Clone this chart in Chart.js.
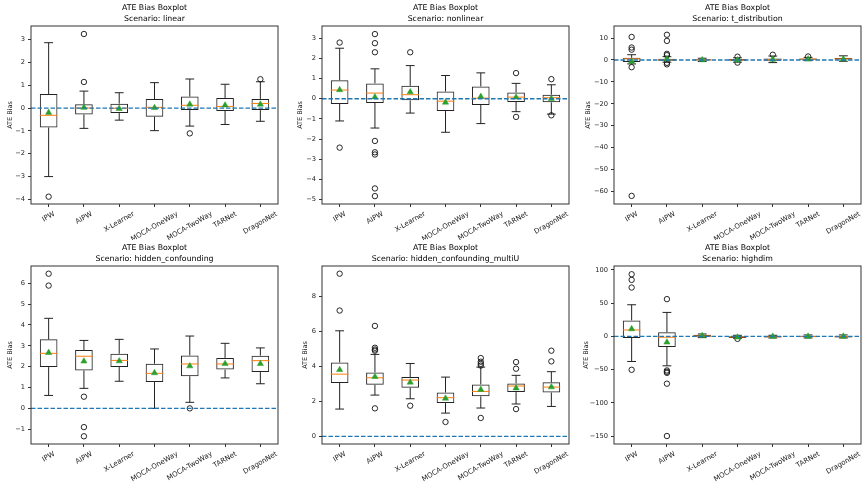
<!DOCTYPE html>
<html>
<head>
<meta charset="utf-8">
<title>ATE Bias Boxplots</title>
<script src="https://cdn.jsdelivr.net/npm/chart.js@4.4.1/dist/chart.umd.min.js"></script>
<style>
    body { margin: 0; background: #fff; }
    canvas { position: absolute; }
</style>
</head>
<body>
<canvas id="c0" width="289" height="240" style="left:0;top:0"></canvas>
<canvas id="c1" width="289" height="240" style="left:289px;top:0"></canvas>
<canvas id="c2" width="290" height="240" style="left:578px;top:0"></canvas>
<canvas id="c3" width="289" height="242" style="left:0;top:240px"></canvas>
<canvas id="c4" width="289" height="242" style="left:289px;top:240px"></canvas>
<canvas id="c5" width="290" height="242" style="left:578px;top:240px"></canvas>
<script>
var methods = ['IPW', 'AIPW', 'X-Learner', 'MOCA-OneWay', 'MOCA-TwoWay', 'TARNet', 'DragonNet'];

// each row: [lower whisker, Q1, median, Q3, upper whisker]
var linearStats = [[-3.0, -0.85, -0.32, 0.61, 2.86], [-0.89, -0.28, 0.0, 0.16, 0.74], [-0.53, -0.22, -0.01, 0.19, 0.67],
    [-0.99, -0.38, 0.03, 0.39, 1.11], [-0.79, -0.09, 0.12, 0.5, 1.27], [-0.72, -0.13, 0.07, 0.44, 1.04], [-0.58, -0.09, 0.2, 0.4, 1.15]];
var linearMeans = [-0.2, 0.02, -0.03, 0.01, 0.16, 0.12, 0.16];
var linearFliers = [[-3.88], [3.24, 1.14], [], [], [-1.11], [], [1.26]];
var linearTicks = [-4, -3, -2, -1, 0, 1, 2, 3];
var linearRange = [-4.2, 3.59];

var nonlinearStats = [[-1.1, -0.26, 0.43, 0.92, 2.5], [-1.45, -0.21, 0.28, 0.76, 1.48], [-0.71, -0.08, 0.2, 0.64, 1.64],
    [-1.66, -0.61, -0.12, 0.36, 1.15], [-1.23, -0.31, 0.03, 0.61, 1.28], [-0.64, -0.16, 0.08, 0.31, 0.76], [-0.76, -0.18, 0.05, 0.2, 0.69]];
var nonlinearMeans = [0.44, 0.08, 0.33, -0.18, 0.1, 0.07, 0.0];
var nonlinearFliers = [[2.78, -2.42], [3.2, 2.75, 2.3, -2.09, -2.65, -2.76, -4.44, -4.82], [2.3], [], [], [1.27, -0.9], [0.97, -0.82]];
var nonlinearTicks = [-5, -4, -3, -2, -1, 0, 1, 2, 3];
var nonlinearRange = [-5.21, 3.6];

var tdistStats = [[-1.8, -0.9, 0.5, 1.0, 2.4], [-1.0, -0.4, 0.1, 0.6, 1.5], [-0.7, -0.2, 0.05, 0.3, 0.8],
    [-1.0, -0.3, 0.05, 0.4, 1.0], [-1.2, -0.4, 0.2, 0.7, 1.8], [-0.3, 0.1, 0.4, 0.7, 1.2], [-0.6, 0.0, 0.5, 0.9, 1.9]];
var tdistMeans = [-0.7, 0.5, 0.0, 0.0, 0.2, 0.4, 0.4];
var tdistFliers = [[10.5, 5.7, 4.7, -3.3, -62], [11.5, 8.7, 2.8, 2.2, -1.3, -2.0], [], [1.5, -1.2], [2.4], [1.6], []];
var tdistTicks = [-60, -50, -40, -30, -20, -10, 0, 10];
var tdistRange = [-65.7, 15.5];

var hiddenStats = [[0.62, 1.98, 2.64, 3.31, 4.32], [0.96, 1.82, 2.5, 2.8, 3.26], [1.3, 1.98, 2.3, 2.62, 3.31],
    [0.0, 1.26, 1.68, 2.14, 2.85], [0.29, 1.54, 2.13, 2.54, 3.47], [1.46, 1.86, 2.13, 2.42, 3.12], [1.18, 1.74, 2.29, 2.53, 2.9]];
var hiddenMeans = [2.67, 2.26, 2.27, 1.7, 2.03, 2.14, 2.14];
var hiddenFliers = [[6.46, 5.89], [0.56, -0.9, -1.34], [], [], [0.0], [], []];
var hiddenTicks = [-1, 0, 1, 2, 3, 4, 5, 6];
var hiddenRange = [-1.71, 6.83];

var multiUStats = [[1.56, 3.05, 3.56, 4.23, 6.04], [2.36, 2.95, 3.35, 3.66, 4.69], [2.15, 2.78, 3.22, 3.39, 4.17],
    [1.33, 1.9, 2.21, 2.51, 3.39], [1.62, 2.29, 2.57, 2.97, 3.96], [1.85, 2.53, 2.88, 3.03, 3.49], [1.71, 2.51, 2.82, 3.09, 3.7]];
var multiUMeans = [3.81, 3.41, 3.09, 2.17, 2.67, 2.76, 2.82];
var multiUFliers = [[9.31, 7.2], [6.32, 5.07, 4.97, 4.9, 1.6], [1.75], [0.82], [4.48, 4.27, 4.15, 4.05, 1.05], [4.25, 3.87, 1.56], [4.9, 4.29]];
var multiUTicks = [0, 2, 4, 6, 8];
var multiURange = [-0.44, 9.75];

var highdimStats = [[-37.9, -2.5, 9.5, 23.9, 47.4], [-44.4, -16, -1.5, 6, 35.9], [-2, -0.8, 0.5, 2.2, 3.5],
    [-3, -2.5, -1, 0.2, 1.5], [-2.5, -1.8, -0.8, 0.3, 1.5], [-2.5, -1.5, -0.3, 0.8, 2], [-2.5, -1.8, -0.5, 0.5, 2]];
var highdimMeans = [11, -9, 0.8, -1.5, -0.3, -0.2, -0.2];
var highdimFliers = [[93.3, 84.8, 73.3, -50.4], [55.9, -51.4, -53.4, -55, -71.3, -150], [], [-3.9], [], [], []];
var highdimTicks = [-150, -100, -50, 0, 50, 100];
var highdimRange = [-162, 105.7];

var FONT = '"DejaVu Sans", sans-serif';

function fmtTick(v) {
    return v < 0 ? '\u2212' + Math.abs(v) : String(v);
}

function makeBoxChart(id, scenario, stats, means, fliers, ticks, range, cell) {
    var flierPts = [];
    fliers.forEach(function (arr, i) {
        arr.forEach(function (v) { flierPts.push({ x: methods[i], y: v }); });
    });

    var partsPlugin = {
        id: 'boxParts',
        afterDatasetDraw: function (chart, args) {
            if (args.index !== 0) return;
            var xs = chart.scales.x, ys = chart.scales.y, ctx = chart.ctx;
            var bars = args.meta.data;
            ctx.save();
            stats.forEach(function (s, i) {
                var x = xs.getPixelForValue(i);
                var half = bars[i].width / 2;
                var cap = half / 2;
                ctx.strokeStyle = '#222';
                ctx.lineWidth = 1;
                ctx.beginPath();
                ctx.moveTo(x, ys.getPixelForValue(s[3]));
                ctx.lineTo(x, ys.getPixelForValue(s[4]));
                ctx.moveTo(x, ys.getPixelForValue(s[1]));
                ctx.lineTo(x, ys.getPixelForValue(s[0]));
                ctx.moveTo(x - cap, ys.getPixelForValue(s[4]));
                ctx.lineTo(x + cap, ys.getPixelForValue(s[4]));
                ctx.moveTo(x - cap, ys.getPixelForValue(s[0]));
                ctx.lineTo(x + cap, ys.getPixelForValue(s[0]));
                ctx.stroke();
                ctx.strokeStyle = '#ff7f0e';
                ctx.beginPath();
                ctx.moveTo(x - half, ys.getPixelForValue(s[2]));
                ctx.lineTo(x + half, ys.getPixelForValue(s[2]));
                ctx.stroke();
            });
            ctx.restore();
        },
        afterDatasetsDraw: function (chart) {
            var a = chart.chartArea, ctx = chart.ctx;
            var y0 = chart.scales.y.getPixelForValue(0);
            ctx.save();
            ctx.strokeStyle = '#1f77b4';
            ctx.lineWidth = 1.3;
            ctx.setLineDash([4.5, 2]);
            ctx.beginPath();
            ctx.moveTo(a.left, y0);
            ctx.lineTo(a.right, y0);
            ctx.stroke();
            ctx.restore();
        },
        afterDraw: function (chart) {
            var a = chart.chartArea, ctx = chart.ctx, xs = chart.scales.x;
            ctx.save();
            ctx.strokeStyle = '#333';
            ctx.lineWidth = 1;
            ctx.strokeRect(a.left, a.top, a.right - a.left, a.bottom - a.top);
            // rotated category labels, centred under each tick like matplotlib
            ctx.font = '7px ' + FONT;
            ctx.fillStyle = '#222';
            ctx.textAlign = 'center';
            ctx.textBaseline = 'middle';
            var ang = Math.PI / 6;
            methods.forEach(function (m, i) {
                var w = ctx.measureText(m).width;
                var bh = w * Math.sin(ang) + 8 * Math.cos(ang);
                ctx.save();
                ctx.translate(xs.getPixelForValue(i), a.bottom + 6 + bh / 2);
                ctx.rotate(-ang);
                ctx.fillText(m, 0, 0);
                ctx.restore();
            });
            ctx.restore();
        }
    };

    return new Chart(document.getElementById(id), {
        type: 'bar',
        data: {
            labels: methods,
            datasets: [{
                type: 'bar',
                data: stats.map(function (s) { return [s[1], s[3]]; }),
                backgroundColor: 'rgba(0,0,0,0)',
                borderColor: '#222',
                borderWidth: 1,
                borderSkipped: false,
                barPercentage: 0.5,
                categoryPercentage: 1,
                order: 3
            }, {
                type: 'scatter',
                data: flierPts,
                pointStyle: 'circle',
                radius: 2.7,
                borderWidth: 0.9,
                borderColor: '#111',
                backgroundColor: 'rgba(0,0,0,0)',
                order: 2
            }, {
                type: 'scatter',
                data: means.map(function (v, i) { return { x: methods[i], y: v }; }),
                pointStyle: 'triangle',
                radius: 3.6,
                borderWidth: 0.5,
                borderColor: '#2ca02c',
                backgroundColor: '#2ca02c',
                order: 1
            }]
        },
        options: {
            responsive: false,
            animation: false,
            events: [],
            layout: { padding: { left: 0, right: cell.rightPad, top: 0, bottom: 0 } },
            plugins: {
                legend: { display: false },
                tooltip: { enabled: false },
                title: {
                    display: true,
                    fullSize: false,
                    text: ['ATE Bias Boxplot', 'Scenario: ' + scenario],
                    color: '#000',
                    font: { family: FONT, size: 7.8, weight: 'normal', lineHeight: 1.4 },
                    padding: { top: 3, bottom: 1.16 }
                }
            },
            scales: {
                x: {
                    type: 'category',
                    offset: true,
                    grid: { offset: false, drawOnChartArea: false, tickLength: 3, color: '#333' },
                    border: { display: false },
                    ticks: { display: false },
                    afterFit: function (scale) { scale.height = cell.xAxisHeight; }
                },
                y: {
                    min: range[0],
                    max: range[1],
                    grid: { drawOnChartArea: false, tickLength: 3, color: '#333' },
                    border: { display: false },
                    afterBuildTicks: function (scale) {
                        scale.ticks = ticks.map(function (v) { return { value: v }; });
                    },
                    ticks: {
                        autoSkip: false,
                        padding: 3,
                        color: '#222',
                        font: { family: FONT, size: 6.7 },
                        callback: fmtTick
                    },
                    title: {
                        display: true,
                        text: 'ATE Bias',
                        color: '#222',
                        font: { family: FONT, size: 6.5, lineHeight: 1.2 },
                        padding: { top: cell.yTitlePad, bottom: 0 }
                    },
                    afterFit: function (scale) { scale.width = cell.yAxisWidth; }
                }
            }
        },
        plugins: [partsPlugin]
    });
}

makeBoxChart('c0', 'linear', linearStats, linearMeans, linearFliers, linearTicks, linearRange,
    { yAxisWidth: 31, rightPad: 11, xAxisHeight: 36, yTitlePad: 6.1 });
makeBoxChart('c1', 'nonlinear', nonlinearStats, nonlinearMeans, nonlinearFliers, nonlinearTicks, nonlinearRange,
    { yAxisWidth: 33, rightPad: 9, xAxisHeight: 36, yTitlePad: 7.1 });
makeBoxChart('c2', 't_distribution', tdistStats, tdistMeans, tdistFliers, tdistTicks, tdistRange,
    { yAxisWidth: 36, rightPad: 7, xAxisHeight: 36, yTitlePad: 6.1 });
makeBoxChart('c3', 'hidden_confounding', hiddenStats, hiddenMeans, hiddenFliers, hiddenTicks, hiddenRange,
    { yAxisWidth: 31, rightPad: 11, xAxisHeight: 38, yTitlePad: 6.1 });
makeBoxChart('c4', 'hidden_confounding_multiU', multiUStats, multiUMeans, multiUFliers, multiUTicks, multiURange,
    { yAxisWidth: 33, rightPad: 9, xAxisHeight: 38, yTitlePad: 12.8 });
makeBoxChart('c5', 'highdim', highdimStats, highdimMeans, highdimFliers, highdimTicks, highdimRange,
    { yAxisWidth: 36, rightPad: 7, xAxisHeight: 38, yTitlePad: 4.1 });
</script>
</body>
</html>
